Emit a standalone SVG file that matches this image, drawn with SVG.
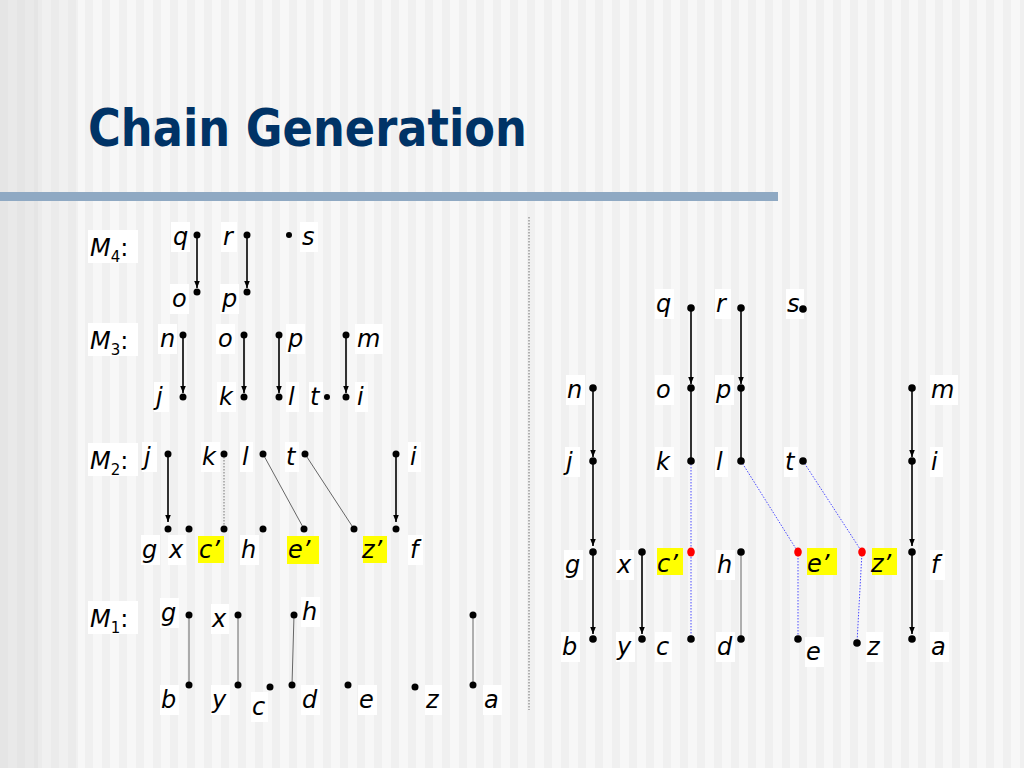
<svg xmlns="http://www.w3.org/2000/svg" width="1024" height="768" viewBox="0 0 1024 768">
<defs>
<pattern id="stripes" x="0" y="0" width="17" height="768" patternUnits="userSpaceOnUse">
<rect width="17" height="768" fill="#f7f7f7"/>
<rect x="0" width="8" height="768" fill="#f0f0f0"/>
</pattern>
<marker id="arr" markerWidth="8" markerHeight="8" refX="7" refY="4" orient="auto" markerUnits="userSpaceOnUse">
<path d="M0,1.2 L7,4 L0,6.8 Z" fill="#000"/>
</marker>
<style>
.lbl{font-family:"DejaVu Sans","Liberation Sans",sans-serif;font-style:italic;font-size:24px;fill:#000}
.sub{font-style:normal;font-size:15px}
.up{font-style:normal}
.lb{fill:#ffffff}
.hl{fill:#ffff00}
.dot{fill:#000}
.red{fill:#ff0000}
.arrow{stroke:#000;stroke-width:1.6;fill:none;marker-end:url(#arr)}
.solid{stroke:#000;stroke-width:1.6;fill:none}
.thin{stroke:#666;stroke-width:1;fill:none}
.thind{stroke:#777;stroke-width:1;stroke-dasharray:1.5,1.5;fill:none}
.blue{stroke:#4a4aff;stroke-width:1;stroke-dasharray:1.5,1.5;fill:none}
</style>
</defs>
<rect width="1024" height="768" fill="url(#stripes)"/>
<rect x="0" y="0" width="38" height="768" fill="#d8d8d8" opacity="0.45"/>
<rect x="38" y="0" width="40" height="768" fill="#e2e2e2" opacity="0.3"/>
<rect x="0" y="192" width="778" height="9" fill="#8fa9c3"/>
<text x="88" y="146" font-family="DejaVu Sans, sans-serif" font-weight="bold" font-size="51" fill="#003366" textLength="439" lengthAdjust="spacingAndGlyphs">Chain Generation</text>
<line x1="529" y1="217" x2="529" y2="710" stroke="#888" stroke-width="1.2" stroke-dasharray="1.5,1.5"/>

<g id="level-labels">
<g id="M4"><rect class="lb" x="88" y="230" width="50" height="33"/><text class="lbl" x="90" y="256">M<tspan class="sub" dy="6">4</tspan><tspan class="up" dy="-6">:</tspan></text></g>
<g id="M3"><rect class="lb" x="88" y="323" width="50" height="33"/><text class="lbl" x="90" y="349">M<tspan class="sub" dy="6">3</tspan><tspan class="up" dy="-6">:</tspan></text></g>
<g id="M2"><rect class="lb" x="88" y="443" width="50" height="33"/><text class="lbl" x="90" y="469">M<tspan class="sub" dy="6">2</tspan><tspan class="up" dy="-6">:</tspan></text></g>
<g id="M1"><rect class="lb" x="88" y="601" width="50" height="33"/><text class="lbl" x="90" y="627">M<tspan class="sub" dy="6">1</tspan><tspan class="up" dy="-6">:</tspan></text></g>
</g>

<g id="connectors">
<line class="arrow" x1="197" y1="235" x2="197" y2="288"/>
<line class="arrow" x1="247" y1="235" x2="247" y2="288"/>
<line class="arrow" x1="183" y1="335" x2="183" y2="393"/>
<line class="arrow" x1="244" y1="335" x2="244" y2="393"/>
<line class="arrow" x1="279" y1="335" x2="279" y2="393"/>
<line class="arrow" x1="346" y1="335" x2="346" y2="393"/>
<line class="arrow" x1="168" y1="454" x2="168" y2="522"/>
<line class="thind" x1="224" y1="454" x2="224" y2="529"/>
<line class="thin" x1="263" y1="454" x2="304" y2="529"/>
<line class="thin" x1="305" y1="454" x2="354" y2="529"/>
<line class="arrow" x1="396" y1="454" x2="396" y2="522"/>
<line class="thin" x1="189" y1="615" x2="189" y2="685"/>
<line class="thin" x1="238" y1="615" x2="238" y2="685"/>
<line class="thin" x1="294" y1="615" x2="292" y2="685"/>
<line class="thin" x1="473" y1="615" x2="473" y2="685"/>

<line class="arrow" x1="691" y1="308" x2="691" y2="384"/>
<line class="arrow" x1="741" y1="308" x2="741" y2="384"/>
<line class="arrow" x1="593" y1="388" x2="593" y2="457"/>
<line class="solid" x1="691" y1="388" x2="691" y2="461"/>
<line class="solid" x1="741" y1="388" x2="741" y2="461"/>
<line class="arrow" x1="912" y1="388" x2="912" y2="457"/>
<line class="arrow" x1="593" y1="461" x2="593" y2="546"/>
<line class="arrow" x1="912" y1="461" x2="912" y2="546"/>
<line class="arrow" x1="593" y1="552" x2="593" y2="634"/>
<line class="arrow" x1="642" y1="552" x2="642" y2="634"/>
<line class="arrow" x1="912" y1="552" x2="912" y2="634"/>
<line class="thin" x1="741" y1="552" x2="741" y2="639" stroke="#888" stroke-width="1.5"/>
<line class="blue" x1="691" y1="461" x2="691" y2="639"/>
<line class="blue" x1="741" y1="461" x2="798" y2="552"/>
<line class="blue" x1="798" y1="552" x2="798" y2="639"/>
<line class="blue" x1="803" y1="461" x2="862" y2="552"/>
<line class="blue" x1="862" y1="552" x2="857" y2="643"/>
</g>

<g id="left-nodes">
<g id="L-q"><rect class="lb" x="171" y="222" width="19" height="30"/><text class="lbl" x="173" y="245">q</text><circle class="dot" cx="197" cy="235" r="3.5"/></g>
<g id="L-r"><rect class="lb" x="221" y="222" width="16" height="30"/><text class="lbl" x="223" y="245">r</text><circle class="dot" cx="247" cy="235" r="3.5"/></g>
<g id="L-s"><rect class="lb" x="300" y="222" width="18" height="30"/><text class="lbl" x="302" y="245">s</text><circle class="dot" cx="289" cy="235" r="3"/></g>
<g id="L4-o"><rect class="lb" x="170" y="284" width="19" height="30"/><text class="lbl" x="172" y="307">o</text><circle class="dot" cx="197" cy="292" r="3.5"/></g>
<g id="L4-p"><rect class="lb" x="220" y="284" width="19" height="30"/><text class="lbl" x="222" y="307">p</text><circle class="dot" cx="247" cy="292" r="3.5"/></g>

<g id="L3-n"><rect class="lb" x="158" y="324" width="19" height="30"/><text class="lbl" x="160" y="347">n</text><circle class="dot" cx="183" cy="335" r="3.5"/></g>
<g id="L3-o"><rect class="lb" x="216" y="324" width="19" height="30"/><text class="lbl" x="218" y="347">o</text><circle class="dot" cx="244" cy="335" r="3.5"/></g>
<g id="L3-p"><rect class="lb" x="286" y="324" width="19" height="30"/><text class="lbl" x="288" y="347">p</text><circle class="dot" cx="279" cy="335" r="3.5"/></g>
<g id="L3-m"><rect class="lb" x="355" y="324" width="28" height="30"/><text class="lbl" x="357" y="347">m</text><circle class="dot" cx="346" cy="335" r="3.5"/></g>
<g id="L3-j"><rect class="lb" x="154" y="382" width="15" height="30"/><text class="lbl" x="156" y="405">j</text><circle class="dot" cx="183" cy="397" r="3.5"/></g>
<g id="L3-k"><rect class="lb" x="217" y="382" width="19" height="30"/><text class="lbl" x="219" y="405">k</text><circle class="dot" cx="244" cy="397" r="3.5"/></g>
<g id="L3-l"><rect class="lb" x="286" y="382" width="13" height="30"/><text class="lbl" x="288" y="405">l</text><circle class="dot" cx="279" cy="397" r="3.5"/></g>
<g id="L3-t"><rect class="lb" x="309" y="382" width="14" height="30"/><text class="lbl" x="310" y="405">t</text><circle class="dot" cx="327" cy="397" r="3"/></g>
<g id="L3-i"><rect class="lb" x="355" y="382" width="13" height="30"/><text class="lbl" x="357" y="405">i</text><circle class="dot" cx="346" cy="397" r="3.5"/></g>

<g id="L2-j"><rect class="lb" x="142" y="442" width="15" height="30"/><text class="lbl" x="144" y="465">j</text><circle class="dot" cx="168" cy="454" r="3.5"/></g>
<g id="L2-k"><rect class="lb" x="201" y="442" width="19" height="30"/><text class="lbl" x="202" y="465">k</text><circle class="dot" cx="224" cy="454" r="3.5"/></g>
<g id="L2-l"><rect class="lb" x="240" y="442" width="13" height="30"/><text class="lbl" x="242" y="465">l</text><circle class="dot" cx="263" cy="454" r="3.5"/></g>
<g id="L2-t"><rect class="lb" x="285" y="442" width="14" height="30"/><text class="lbl" x="286" y="465">t</text><circle class="dot" cx="305" cy="454" r="3.5"/></g>
<g id="L2-i"><rect class="lb" x="408" y="442" width="13" height="30"/><text class="lbl" x="410" y="465">i</text><circle class="dot" cx="396" cy="454" r="3.5"/></g>
<g id="L2-g"><rect class="lb" x="141" y="535" width="19" height="30"/><text class="lbl" x="142" y="558">g</text><circle class="dot" cx="168" cy="529" r="3.5"/></g>
<g id="L2-x"><rect class="lb" x="168" y="535" width="18" height="30"/><text class="lbl" x="169" y="558">x</text><circle class="dot" cx="189" cy="529" r="3.5"/></g>
<g id="L2-c1"><rect class="hl" x="198" y="536" width="26" height="27"/><text class="lbl" x="199" y="558">c’</text><circle class="dot" cx="224" cy="529" r="3.5"/></g>
<g id="L2-h"><rect class="lb" x="240" y="535" width="19" height="30"/><text class="lbl" x="241" y="558">h</text><circle class="dot" cx="263" cy="529" r="3.5"/></g>
<g id="L2-e1"><rect class="hl" x="287" y="536" width="32" height="28"/><text class="lbl" x="288" y="558">e’</text><circle class="dot" cx="304" cy="529" r="3.5"/></g>
<g id="L2-z1"><rect class="hl" x="363" y="536" width="24" height="27"/><text class="lbl" x="362" y="558">z’</text><circle class="dot" cx="354" cy="529" r="3.5"/></g>
<g id="L2-f"><rect class="lb" x="408" y="535" width="15" height="30"/><text class="lbl" x="410" y="558">f</text><circle class="dot" cx="396" cy="529" r="3.5"/></g>

<g id="L1-g"><rect class="lb" x="160" y="598" width="19" height="30"/><text class="lbl" x="161" y="621">g</text><circle class="dot" cx="189" cy="615" r="3.5"/></g>
<g id="L1-x"><rect class="lb" x="211" y="604" width="18" height="30"/><text class="lbl" x="212" y="627">x</text><circle class="dot" cx="238" cy="615" r="3.5"/></g>
<g id="L1-h"><rect class="lb" x="301" y="597" width="19" height="30"/><text class="lbl" x="302" y="620">h</text><circle class="dot" cx="294" cy="615" r="3.5"/></g>
<g id="L1-atop"><circle class="dot" cx="473" cy="615" r="3.5"/></g>
<g id="L1-b"><rect class="lb" x="160" y="685" width="19" height="30"/><text class="lbl" x="161" y="708">b</text><circle class="dot" cx="189" cy="685" r="3.5"/></g>
<g id="L1-y"><rect class="lb" x="211" y="685" width="19" height="30"/><text class="lbl" x="212" y="708">y</text><circle class="dot" cx="238" cy="685" r="3.5"/></g>
<g id="L1-c"><rect class="lb" x="251" y="692" width="17" height="30"/><text class="lbl" x="252" y="715">c</text><circle class="dot" cx="270" cy="687" r="3.5"/></g>
<g id="L1-d"><rect class="lb" x="301" y="685" width="19" height="30"/><text class="lbl" x="302" y="708">d</text><circle class="dot" cx="292" cy="685" r="3.5"/></g>
<g id="L1-e"><rect class="lb" x="358" y="685" width="19" height="30"/><text class="lbl" x="359" y="708">e</text><circle class="dot" cx="348" cy="685" r="3.5"/></g>
<g id="L1-z"><rect class="lb" x="425" y="685" width="17" height="30"/><text class="lbl" x="426" y="708">z</text><circle class="dot" cx="415" cy="687" r="3.5"/></g>
<g id="L1-a"><rect class="lb" x="483" y="685" width="19" height="30"/><text class="lbl" x="484" y="708">a</text><circle class="dot" cx="473" cy="685" r="3.5"/></g>
</g>

<g id="right-nodes">
<g id="R-q"><rect class="lb" x="655" y="289" width="19" height="30"/><text class="lbl" x="656" y="312">q</text><circle class="dot" cx="691" cy="308" r="3.8"/></g>
<g id="R-r"><rect class="lb" x="715" y="289" width="16" height="30"/><text class="lbl" x="716" y="312">r</text><circle class="dot" cx="741" cy="308" r="3.8"/></g>
<g id="R-s"><rect class="lb" x="786" y="289" width="18" height="30"/><text class="lbl" x="787" y="312">s</text><circle class="dot" cx="803" cy="309" r="3.8"/></g>
<g id="R-n"><rect class="lb" x="566" y="375" width="19" height="30"/><text class="lbl" x="567" y="398">n</text><circle class="dot" cx="593" cy="388" r="3.8"/></g>
<g id="R-o"><rect class="lb" x="655" y="375" width="19" height="30"/><text class="lbl" x="656" y="398">o</text><circle class="dot" cx="691" cy="388" r="3.8"/></g>
<g id="R-p"><rect class="lb" x="715" y="375" width="19" height="30"/><text class="lbl" x="716" y="398">p</text><circle class="dot" cx="741" cy="388" r="3.8"/></g>
<g id="R-m"><rect class="lb" x="930" y="375" width="28" height="30"/><text class="lbl" x="931" y="398">m</text><circle class="dot" cx="912" cy="388" r="3.8"/></g>
<g id="R-j"><rect class="lb" x="565" y="447" width="15" height="30"/><text class="lbl" x="566" y="470">j</text><circle class="dot" cx="593" cy="461" r="3.8"/></g>
<g id="R-k"><rect class="lb" x="655" y="447" width="19" height="30"/><text class="lbl" x="656" y="470">k</text><circle class="dot" cx="691" cy="461" r="3.8"/></g>
<g id="R-l"><rect class="lb" x="715" y="447" width="13" height="30"/><text class="lbl" x="716" y="470">l</text><circle class="dot" cx="741" cy="461" r="3.8"/></g>
<g id="R-t"><rect class="lb" x="784" y="447" width="14" height="30"/><text class="lbl" x="785" y="470">t</text><circle class="dot" cx="803" cy="461" r="3.8"/></g>
<g id="R-i"><rect class="lb" x="930" y="447" width="13" height="30"/><text class="lbl" x="931" y="470">i</text><circle class="dot" cx="912" cy="461" r="3.8"/></g>
<g id="R-g"><rect class="lb" x="564" y="550" width="19" height="30"/><text class="lbl" x="565" y="573">g</text><circle class="dot" cx="593" cy="552" r="3.8"/></g>
<g id="R-x"><rect class="lb" x="616" y="550" width="18" height="30"/><text class="lbl" x="617" y="573">x</text><circle class="dot" cx="642" cy="552" r="3.8"/></g>
<g id="R-c1"><rect class="hl" x="657" y="548" width="26" height="27"/><text class="lbl" x="657" y="572">c’</text><ellipse class="red" cx="691" cy="552" rx="3.8" ry="4.5"/></g>
<g id="R-h"><rect class="lb" x="716" y="550" width="19" height="30"/><text class="lbl" x="717" y="573">h</text><circle class="dot" cx="741" cy="552" r="3.8"/></g>
<g id="R-e1"><rect class="hl" x="807" y="548" width="30" height="27"/><text class="lbl" x="807" y="572">e’</text><ellipse class="red" cx="798" cy="552" rx="3.8" ry="4.5"/></g>
<g id="R-z1"><rect class="hl" x="872" y="548" width="25" height="27"/><text class="lbl" x="871" y="572">z’</text><ellipse class="red" cx="862" cy="552" rx="3.8" ry="4.5"/></g>
<g id="R-f"><rect class="lb" x="930" y="550" width="15" height="30"/><text class="lbl" x="931" y="573">f</text><circle class="dot" cx="912" cy="552" r="3.8"/></g>
<g id="R-b"><rect class="lb" x="561" y="632" width="19" height="30"/><text class="lbl" x="562" y="655">b</text><circle class="dot" cx="593" cy="639" r="3.8"/></g>
<g id="R-y"><rect class="lb" x="616" y="632" width="19" height="30"/><text class="lbl" x="617" y="655">y</text><circle class="dot" cx="642" cy="639" r="3.8"/></g>
<g id="R-c"><rect class="lb" x="655" y="632" width="17" height="30"/><text class="lbl" x="656" y="655">c</text><circle class="dot" cx="691" cy="639" r="3.8"/></g>
<g id="R-d"><rect class="lb" x="716" y="632" width="19" height="30"/><text class="lbl" x="717" y="655">d</text><circle class="dot" cx="741" cy="639" r="3.8"/></g>
<g id="R-e"><rect class="lb" x="805" y="637" width="19" height="30"/><text class="lbl" x="806" y="660">e</text><circle class="dot" cx="798" cy="639" r="3.8"/></g>
<g id="R-z"><rect class="lb" x="866" y="632" width="17" height="30"/><text class="lbl" x="867" y="655">z</text><circle class="dot" cx="857" cy="643" r="3.8"/></g>
<g id="R-a"><rect class="lb" x="930" y="632" width="19" height="30"/><text class="lbl" x="931" y="655">a</text><circle class="dot" cx="912" cy="639" r="3.8"/></g>
</g>
</svg>
